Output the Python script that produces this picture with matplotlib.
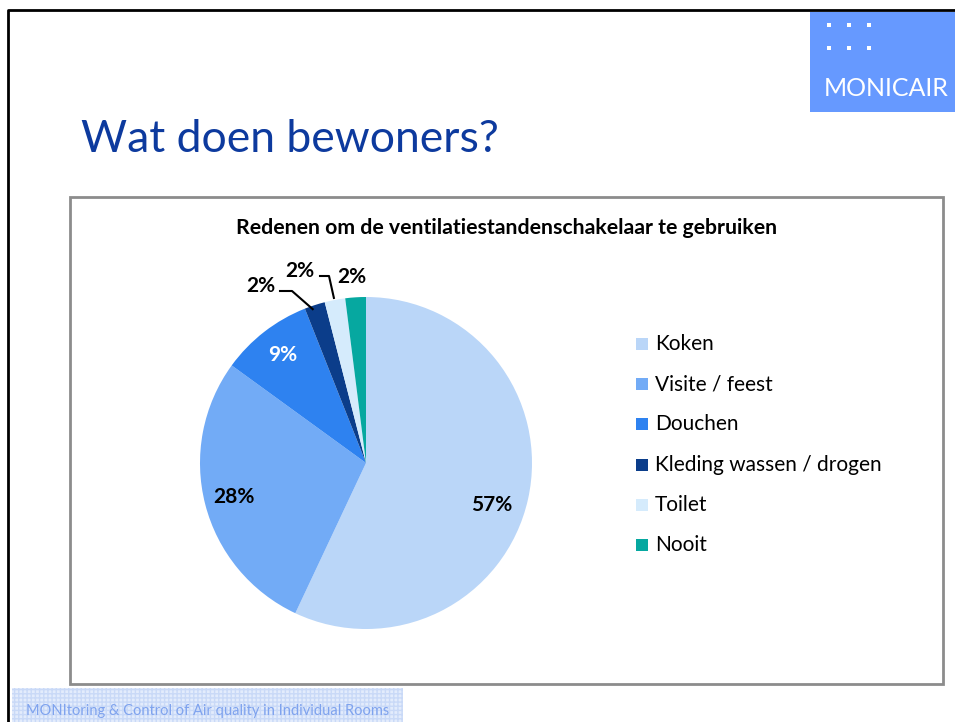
import numpy as np
import matplotlib.pyplot as plt
from matplotlib.patches import Rectangle

plt.rcParams['font.family'] = ['Lato', 'DejaVu Sans']

# data
labels = ['Koken', 'Visite / feest', 'Douchen', 'Kleding wassen / drogen', 'Toilet', 'Nooit']
values = [57, 28, 9, 2, 2, 2]
colors = ['#BAD6F8', '#72ABF6', '#2E82F0', '#0B3D8A', '#D5EBFC', '#06A8A0']
slide_title = 'Wat doen bewoners?'
chart_title = 'Redenen om de ventilatiestandenschakelaar te gebruiken'
footer = 'MONItoring & Control of Air quality in Individual Rooms'

W, H = 955, 722
fig = plt.figure(figsize=(W / 100, H / 100), dpi=100)
ax = fig.add_axes([0, 0, 1, 1])


def py(y):
    # pixel row -> data y
    return H - y


# pie
cx, cy, r = 366, py(463), 166
wedges, _ = ax.pie(values, colors=colors, startangle=90, counterclock=False,
                   center=(cx, cy), radius=r, frame=True,
                   wedgeprops=dict(linewidth=0))

ax.set_xlim(0, W)
ax.set_ylim(0, H)
ax.set_aspect('equal')
ax.axis('off')

# slide border
ax.plot([8, 8, W], [0, py(10), py(10)], color='black', lw=2, solid_capstyle='butt')

# slide title
ax.text(81, py(152), slide_title, fontsize=32, color='#0D3A9E', ha='left', va='baseline')

# logo box
ax.add_patch(Rectangle((810, py(112)), W - 810, 100, facecolor='#6699FF', edgecolor='none'))
for dx in [829, 849, 869]:
    for dy in [25, 48]:
        ax.add_patch(Rectangle((dx - 2, py(dy) - 2), 4, 4, facecolor='white', edgecolor='none'))
ax.text(824, py(96), 'MONICAIR', fontsize=18, color='white', ha='left', va='baseline')

# chart frame
ax.add_patch(Rectangle((70, py(684)), 943 - 70, 684 - 197, facecolor='white',
                       edgecolor='#8C8C8C', lw=2, zorder=0))
ax.text(507, py(228), chart_title, fontsize=15.3, fontweight='bold', ha='center', va='center')


def wedge_point(w, frac, shift=0.0):
    ang = np.deg2rad((w.theta1 + w.theta2) / 2 + shift)
    return cx + frac * r * np.cos(ang), cy + frac * r * np.sin(ang)


# percentage labels inside the big slices
inside = [(0, 0.8, -6, 'black'), (1, 0.82, 0, 'black'), (2, 0.82, 0, 'white')]
for i, frac, shift, col in inside:
    x, y = wedge_point(wedges[i], frac, shift)
    ax.text(x, y, f'{values[i]}%', fontsize=15, fontweight='bold', color=col,
            ha='center', va='center')

# small slices with leader lines
# Kleding
x0, y0 = wedge_point(wedges[3], 1.0)
ax.plot([x0 - 2, 292, 280], [y0 - 4, py(291), py(291)], color='black', lw=1.5)
ax.text(261, py(286), f'{values[3]}%', fontsize=15, fontweight='bold', ha='center', va='center')
# Toilet
x0, y0 = wedge_point(wedges[4], 1.0)
ax.plot([x0 - 1, 329, 320], [y0 + 2, py(276), py(276)], color='black', lw=1.5)
ax.text(300, py(271), f'{values[4]}%', fontsize=15, fontweight='bold', ha='center', va='center')
# Nooit
ax.text(352, py(277), f'{values[5]}%', fontsize=15, fontweight='bold', ha='center', va='center')

# legend
for i, (lab, col) in enumerate(zip(labels, colors)):
    yy = py(344 + 40.2 * i)
    ax.add_patch(Rectangle((636, yy - 6), 12, 12, facecolor=col, edgecolor='none'))
    ax.text(655, yy, lab, fontsize=15, ha='left', va='center')

# footer
ax.add_patch(Rectangle((12, 0), 403 - 12, 722 - 688, facecolor='#E3ECFC',
                       edgecolor='#C9D9F7', hatch='++++', lw=0))
ax.text(26, py(711), footer, fontsize=10.5, color='#7FA3EE', ha='left', va='center')

fig.savefig('out.png', dpi=100)
